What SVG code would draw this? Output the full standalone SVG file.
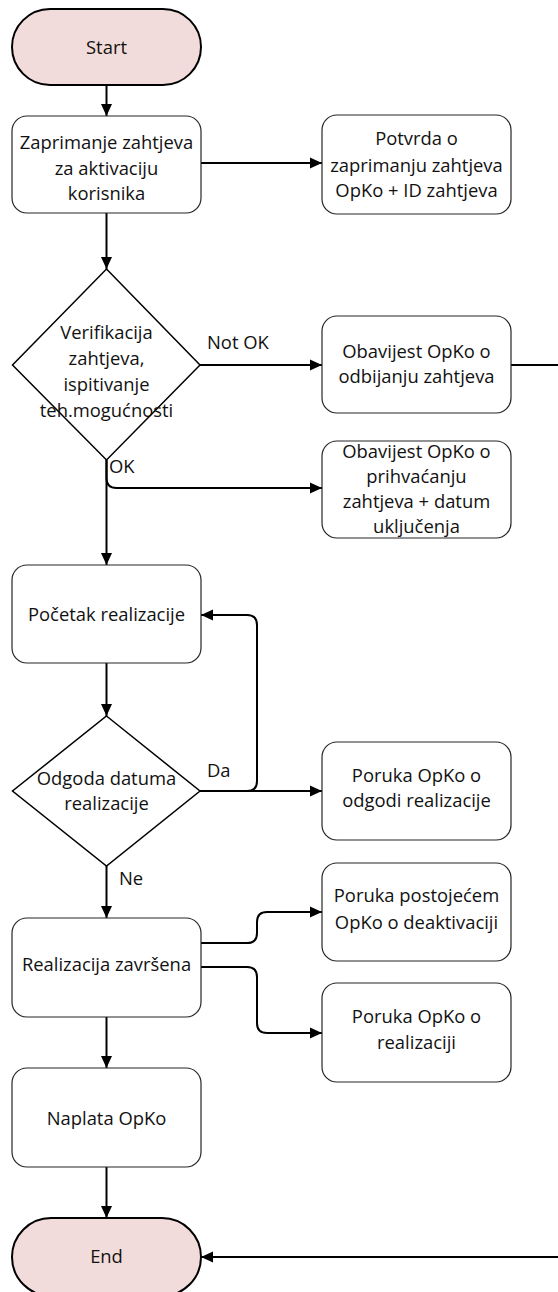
<svg xmlns="http://www.w3.org/2000/svg" width="558" height="1292" viewBox="0 0 558 1292">
<defs>
<marker id="ah" markerUnits="userSpaceOnUse" markerWidth="12" markerHeight="12" refX="12" refY="6" orient="auto">
<path d="M0,0.5 L12,6 L0,11.5 z" fill="#000"/>
</marker>
<style>
.term{fill:#f2dcdb;stroke:#000;stroke-width:2}
.box{fill:#fff;stroke:#262626;stroke-width:1.2}
.dec{fill:#fff;stroke:#000;stroke-width:1.5}
text{font-family:"Open Sans","Liberation Sans",sans-serif;font-size:18.4px;fill:#111;text-anchor:middle}
.lbl{text-anchor:start}
.c{fill:none;stroke:#000;stroke-width:2}
</style>
</defs>
<g id="connectors">
<path class="c" d="M106.5,85 V116" marker-end="url(#ah)"/>
<path class="c" d="M201,163 H322" marker-end="url(#ah)"/>
<path class="c" d="M106.5,213 V269" marker-end="url(#ah)"/>
<path class="c" d="M200,365 H322" marker-end="url(#ah)"/>
<path class="c" d="M511,365 H566 V1257 H201" marker-end="url(#ah)"/>
<path class="c" d="M106.5,460 V478 Q106.5,488 116.5,488 H322" marker-end="url(#ah)"/>
<path class="c" d="M106.5,460 V565" marker-end="url(#ah)"/>
<path class="c" d="M106.5,663 V716" marker-end="url(#ah)"/>
<path class="c" d="M200,791 H247 Q257,791 257,781 V625 Q257,615 247,615 H201" marker-end="url(#ah)"/>
<path class="c" d="M200,791 H322" marker-end="url(#ah)"/>
<path class="c" d="M106.5,866 V918" marker-end="url(#ah)"/>
<path class="c" d="M201,943 H247 Q257,943 257,933 V922 Q257,912 267,912 H322" marker-end="url(#ah)"/>
<path class="c" d="M201,967 H247 Q257,967 257,977 V1023 Q257,1033 267,1033 H322" marker-end="url(#ah)"/>
<path class="c" d="M106.5,1017 V1068" marker-end="url(#ah)"/>
<path class="c" d="M106.5,1167 V1218" marker-end="url(#ah)"/>
<text class="lbl" x="207" y="349">Not OK</text>
<text class="lbl" x="109" y="473">OK</text>
<text class="lbl" x="207" y="777">Da</text>
<text class="lbl" x="119" y="885">Ne</text>
</g>
<g id="start">
<rect class="term" x="12" y="9" width="189" height="76" rx="38" ry="38"/>
<text x="106.5" y="54">Start</text>
</g>
<g id="zaprimanje">
<rect class="box" x="12" y="116" width="189" height="97" rx="15" ry="15"/>
<text x="106.5" y="149">Zaprimanje zahtjeva</text>
<text x="106.5" y="175">za aktivaciju</text>
<text x="106.5" y="200">korisnika</text>
</g>
<g id="potvrda">
<rect class="box" x="322" y="115" width="189" height="99" rx="15" ry="15"/>
<text x="416.5" y="145">Potvrda o</text>
<text x="416.5" y="172">zaprimanju zahtjeva</text>
<text x="416.5" y="197">OpKo + ID zahtjeva</text>
</g>
<g id="verifikacija">
<polygon class="dec" points="106.5,269 200,365 106.5,460 12.5,365"/>
<text x="106.5" y="339">Verifikacija</text>
<text x="106.5" y="365">zahtjeva,</text>
<text x="106.5" y="391">ispitivanje</text>
<text x="106.5" y="417">teh.mogućnosti</text>
</g>
<g id="odbijanje">
<rect class="box" x="322" y="316" width="189" height="97" rx="15" ry="15"/>
<text x="416.5" y="358">Obavijest OpKo o</text>
<text x="416.5" y="383">odbijanju zahtjeva</text>
</g>
<g id="prihvacanje">
<rect class="box" x="322" y="441" width="189" height="97" rx="15" ry="15"/>
<text x="416.5" y="458">Obavijest OpKo o</text>
<text x="416.5" y="483">prihvaćanju</text>
<text x="416.5" y="508">zahtjeva + datum</text>
<text x="416.5" y="533">uključenja</text>
</g>
<g id="pocetak">
<rect class="box" x="12" y="565" width="189" height="98" rx="15" ry="15"/>
<text x="106.5" y="621">Početak realizacije</text>
</g>
<g id="odgoda">
<polygon class="dec" points="106.5,716 200,791 106.5,866 12.5,791"/>
<text x="106.5" y="785">Odgoda datuma</text>
<text x="106.5" y="810">realizacije</text>
</g>
<g id="poruka-odgodi">
<rect class="box" x="322" y="742" width="189" height="98" rx="15" ry="15"/>
<text x="416.5" y="782">Poruka OpKo o</text>
<text x="416.5" y="807">odgodi realizacije</text>
</g>
<g id="poruka-deaktivaciji">
<rect class="box" x="322" y="863" width="189" height="98" rx="15" ry="15"/>
<text x="416.5" y="902">Poruka postojećem</text>
<text x="416.5" y="929">OpKo o deaktivaciji</text>
</g>
<g id="realizacija">
<rect class="box" x="12" y="918" width="189" height="99" rx="15" ry="15"/>
<text x="106.5" y="971">Realizacija završena</text>
</g>
<g id="poruka-realizaciji">
<rect class="box" x="322" y="983" width="189" height="99" rx="15" ry="15"/>
<text x="416.5" y="1023">Poruka OpKo o</text>
<text x="416.5" y="1049">realizaciji</text>
</g>
<g id="naplata">
<rect class="box" x="12" y="1068" width="189" height="99" rx="15" ry="15"/>
<text x="106.5" y="1125">Naplata OpKo</text>
</g>
<g id="end">
<rect class="term" x="12" y="1218" width="189" height="78" rx="39" ry="39"/>
<text x="106.5" y="1263">End</text>
</g>
</svg>
